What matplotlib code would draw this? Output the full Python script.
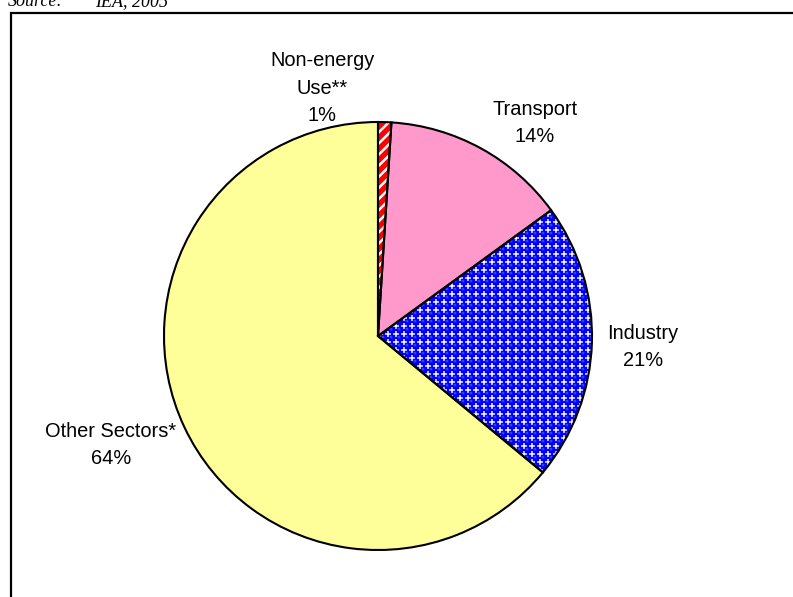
import numpy as np
import matplotlib
matplotlib.use("Agg")
import matplotlib.pyplot as plt
from matplotlib.patches import Wedge, Rectangle

# Final energy consumption by sector
sectors = ["Non-energy\nUse**", "Transport", "Industry", "Other Sectors*"]
shares = [1, 14, 21, 64]
face_colors = ["#ff0000", "#ff99cc", "#0000ff", "#ffff99"]
source_label = "Source:"
source_name = "IEA, 2005"

W, H = 793, 597
plt.rcParams["hatch.linewidth"] = 1.8
fig = plt.figure(figsize=(W / 100, H / 100), dpi=100)
ax = fig.add_axes([0, 0, 1, 1])

# axes in pixel units, y measured upward
def py(y):
    return H - y

cx, cy, R = 378, py(336), 214
wedges, _ = ax.pie(shares, colors=face_colors, startangle=90, counterclock=False,
                   center=(cx, cy), radius=R, wedgeprops=dict(linewidth=0))

# diagonal white stripes on the non-energy slice
w0 = wedges[0]
stripes = Wedge(w0.center, w0.r, w0.theta1, w0.theta2, facecolor="none",
                edgecolor="white", linewidth=0, hatch="///", zorder=2)
ax.add_patch(stripes)

# sphere texture on the industry slice
def sphere_tile(n=8):
    yy, xx = np.mgrid[0:n, 0:n] + 0.5
    d = np.hypot(xx - n / 2, yy - n / 2)
    tile = np.empty((n, n, 3))
    tile[...] = [0.72, 0.72, 1.0]
    tile[d > n * 0.60] = [1.0, 1.0, 1.0]
    inside = d < n * 0.45
    hl = np.hypot(xx - n * 0.38, yy - n * 0.38)
    mix = np.clip(1 - hl / (n * 0.30), 0, 1) ** 2 * 0.45
    blue = np.array([0.0, 0.0, 1.0])
    shade = blue[None, None, :] * (1 - mix[..., None]) + mix[..., None]
    tile[inside] = shade[inside]
    return tile

tile = sphere_tile(8)
reps = int(np.ceil((2 * R + 16) / 8))
tex = np.tile(tile, (reps, reps, 1))
x0, y0 = cx - R - 8, cy - R - 8
im = ax.imshow(tex, extent=(x0, x0 + reps * 8, y0, y0 + reps * 8),
               interpolation="nearest", zorder=2)
im.set_clip_path(wedges[2])

# slice outlines
for w in wedges:
    ax.add_patch(Wedge(w.center, w.r, w.theta1, w.theta2, fill=False,
                       edgecolor="black", linewidth=1.5, zorder=3))

# slice labels
label_font = dict(family="Liberation Sans", size=14.4, color="black")
label_pos = [(322, 66), (535, 115), (643, 339), (111, 437)]
line_step = 27.5
for name, val, (lx, ly) in zip(sectors, shares, label_pos):
    lines = name.split("\n") + [f"{val:.0f}%"]
    for i, line in enumerate(lines):
        ax.text(lx, py(ly + i * line_step), line, ha="center", va="baseline",
                **label_font)

# chart frame
ax.add_patch(Rectangle((11.3, -20), W + 20, py(12.5) + 20, fill=False,
                       edgecolor="black", linewidth=1.6, zorder=4))

# source note, running off the top edge
src_font = dict(family="Liberation Serif", style="italic", size=13, color="black")
ax.text(8, py(6.5), source_label, ha="left", va="baseline", **src_font)
ax.text(95, py(6.5), source_name, ha="left", va="baseline", **src_font)

ax.set_xlim(0, W)
ax.set_ylim(0, H)
ax.set_aspect("equal")
ax.axis("off")
fig.savefig("out.png", dpi=100)
